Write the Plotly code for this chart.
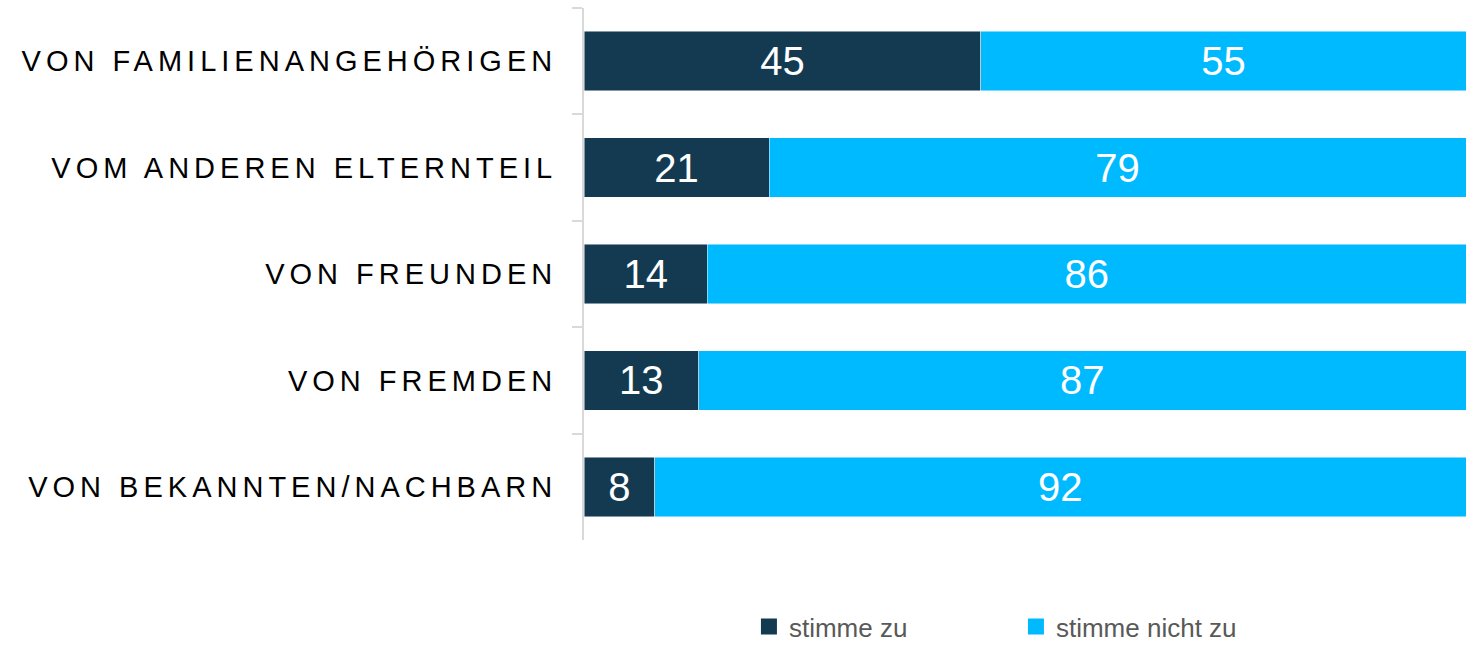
import plotly.graph_objects as go

categories = ["VON FAMILIENANGEHÖRIGEN", "VOM ANDEREN ELTERNTEIL", "VON FREUNDEN",
              "VON FREMDEN", "VON BEKANNTEN/NACHBARN"]
agree = [45, 21, 14, 13, 8]
disagree = [55, 79, 86, 87, 92]
series_names = ["stimme zu", "stimme nicht zu"]
colors = ["#133A51", "#00BAFF"]

fig = go.Figure()
for name, vals, col in zip(series_names, [agree, disagree], colors):
    fig.add_trace(go.Bar(
        y=categories, x=vals, name=name, orientation="h", showlegend=False,
        legendgroup=name,
        marker=dict(color=col, line=dict(color="rgba(255,255,255,0.6)", width=0.8)),
        text=[str(v) for v in vals], textposition="inside", insidetextanchor="middle",
        textangle=0, constraintext="none",
        textfont=dict(color="white", size=40, family="Liberation Sans, Arial"),
        hoverinfo="skip",
    ))
# legend entries (larger square swatches)
for name, col in zip(series_names, colors):
    fig.add_trace(go.Scatter(
        x=[None], y=[None], mode="markers", name=name, legendgroup=name,
        marker=dict(symbol="square", size=16, color=col), hoverinfo="skip",
    ))

fig.update_layout(
    barmode="stack", bargap=0.44,
    width=1466, height=645,
    margin=dict(l=584, r=0, t=8, b=105, autoexpand=False),
    plot_bgcolor="white", paper_bgcolor="white",
    font=dict(family="Liberation Sans, Arial", color="#000000"),
    xaxis=dict(range=[0, 100], visible=False, showgrid=False, zeroline=False),
    yaxis=dict(
        type="category", autorange="reversed",
        categoryorder="array", categoryarray=categories,
        showline=True, linecolor="#D9D9D9", linewidth=2,
        ticks="outside", tickson="boundaries", ticklen=10, tickwidth=2, tickcolor="#D9D9D9",
        tickfont=dict(size=29, color="#000000", family="Liberation Sans, Arial"),
        ticklabelstandoff=19, showgrid=False, zeroline=False,
    ),
    legend=dict(
        orientation="h", x=0.187, xanchor="left", y=-0.163, yanchor="middle",
        font=dict(size=26, color="#595959", family="Liberation Sans, Arial"),
        entrywidth=222, entrywidthmode="pixels", traceorder="normal",
        tracegroupgap=0,
    ),
    showlegend=True,
)

post = ("document.body.style.margin='0';document.body.style.overflow='hidden';"
        "document.querySelectorAll('.ytick text').forEach(function(t){"
        "t.style.letterSpacing='5px';});")
fig.write_html("out.html", post_script=post, config={"displayModeBar": False})
